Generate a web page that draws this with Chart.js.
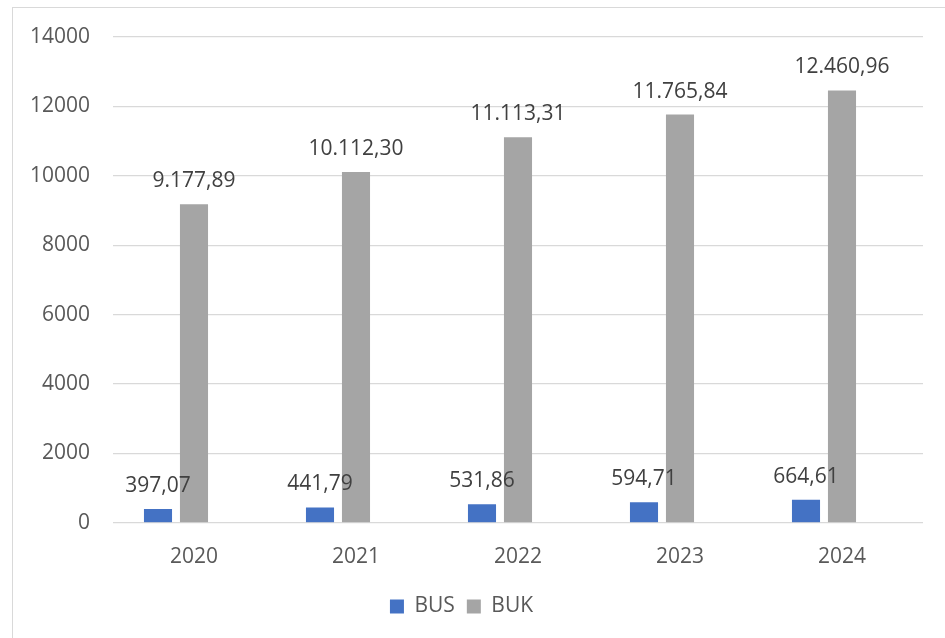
<html lang="id">
<head>
  <meta charset="UTF-8" />
  <title>BUS dan BUK 2020-2024</title>
  <script src="https://cdn.jsdelivr.net/npm/chart.js"></script>
  <style>
    body {
      margin: 0;
      background: #ffffff;
      overflow: hidden;
    }
    .frame {
      position: absolute;
      left: 12px;
      top: 7px;
      width: 960px;
      height: 660px;
      border-left: 1px solid #d9d9d9;
      border-top: 1px solid #d9d9d9;
    }
    canvas {
      position: absolute;
      left: 0;
      top: 0;
    }
  </style>
</head>
<body>

<div class="frame"></div>
<canvas id="barChart" width="945" height="638"></canvas>

<script>
  const years = ['2020', '2021', '2022', '2023', '2024'];
  const busValues = [397.07, 441.79, 531.86, 594.71, 664.61];
  const bukValues = [9177.89, 10112.30, 11113.31, 11765.84, 12460.96];

  const fontFamily = "'Open Sans', sans-serif";
  const fontSize = 21;

  // angka gaya Indonesia: 12.460,96
  function formatId(v) {
    const parts = v.toFixed(2).split('.');
    return parts[0].replace(/\B(?=(\d{3})+(?!\d))/g, '.') + ',' + parts[1];
  }

  const valueLabels = {
    id: 'valueLabels',
    afterDatasetsDraw(chart) {
      const ctx = chart.ctx;
      ctx.save();
      ctx.font = fontSize + 'px ' + fontFamily;
      ctx.fillStyle = '#404040';
      ctx.textAlign = 'center';
      ctx.textBaseline = 'alphabetic';
      [0, 1].forEach(i => {
        const meta = chart.getDatasetMeta(i);
        meta.data.forEach((bar, j) => {
          const v = chart.data.datasets[i].data[j];
          ctx.fillText(formatId(v), bar.x, bar.y - 17);
        });
      });
      ctx.restore();
    }
  };

  new Chart(document.getElementById('barChart'), {
    type: 'bar',
    data: {
      labels: years,
      datasets: [
        {
          label: 'BUS',
          data: busValues,
          backgroundColor: '#4472C4'
        },
        {
          label: 'BUK',
          data: bukValues,
          backgroundColor: '#A5A5A5'
        },
        {
          // slot kosong, bikin kelompok batang agak ke kiri seperti di Excel
          label: '',
          data: [],
          backgroundColor: 'rgba(0,0,0,0)'
        }
      ]
    },
    options: {
      responsive: false,
      animation: false,
      categoryPercentage: 0.6667,
      barPercentage: 0.78,
      layout: {
        padding: { left: 0, right: 22, top: 37, bottom: 11 }
      },
      plugins: {
        legend: {
          position: 'bottom',
          labels: {
            color: '#595959',
            font: { family: fontFamily, size: fontSize },
            boxWidth: 14,
            boxHeight: 14,
            padding: 12,
            filter: item => item.text !== ''
          }
        },
        tooltip: { enabled: false }
      },
      scales: {
        x: {
          grid: { display: false },
          border: { display: false },
          ticks: {
            color: '#595959',
            font: { family: fontFamily, size: fontSize },
            padding: 14
          }
        },
        y: {
          min: 0,
          max: 14000,
          afterFit(scale) { scale.width = 113; },
          grid: { color: '#d9d9d9', lineWidth: 1.3, drawTicks: false },
          border: { display: false },
          ticks: {
            stepSize: 2000,
            color: '#595959',
            font: { family: fontFamily, size: fontSize },
            padding: 23,
            callback: v => String(v)
          }
        }
      }
    },
    plugins: [valueLabels]
  });
</script>

</body>
</html>
